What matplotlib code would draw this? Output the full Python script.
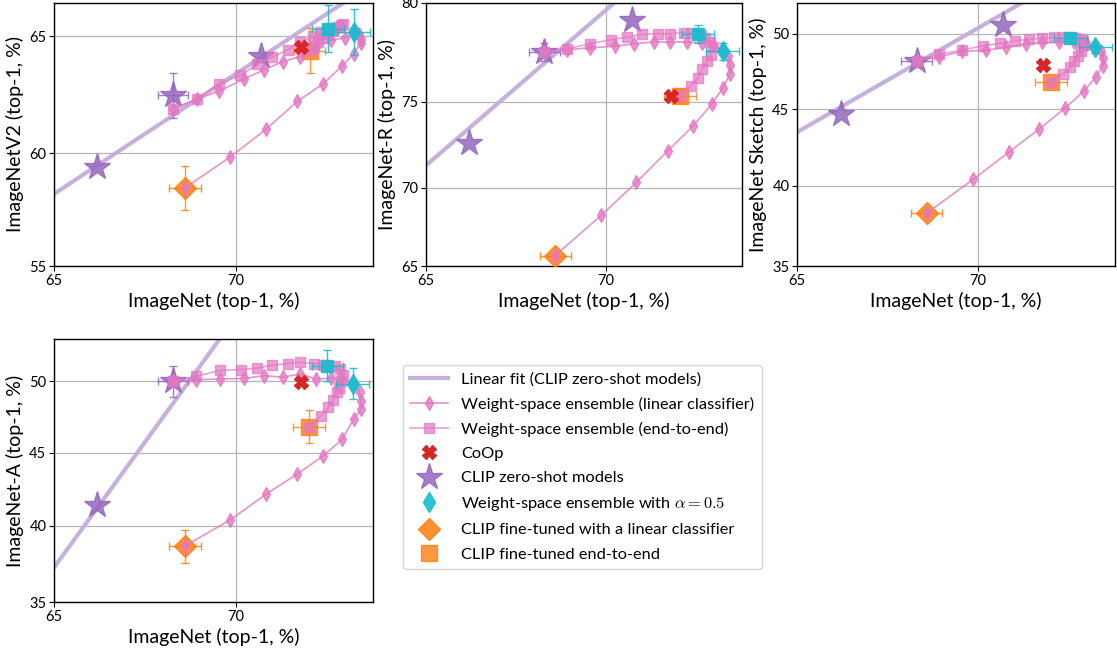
import numpy as np
import matplotlib
matplotlib.use("Agg")
import matplotlib.pyplot as plt
from matplotlib.lines import Line2D
from matplotlib.ticker import FixedLocator, NullLocator, FixedFormatter

plt.rcParams["font.family"] = ["Lato", "DejaVu Sans"]
plt.rcParams["mathtext.fontset"] = "cm"

# ---------------- data ----------------
panels = ["ImageNetV2", "ImageNet-R", "ImageNet Sketch", "ImageNet-A"]
ylabels = ["ImageNetV2 (top-1, %)", "ImageNet-R (top-1, %)",
           "ImageNet Sketch (top-1, %)", "ImageNet-A (top-1, %)"]
xlabel = "ImageNet (top-1, %)"
ylims = [(55, 66.36), (65, 80), (35, 52.05), (35, 52.97)]
yticks = [[55, 60, 65], [65, 70, 75, 80], [35, 40, 45, 50], [35, 40, 45, 50]]
xlim = (65, 73.5)
xticks = [65, 70]

# weight-space ensemble, linear classifier (alpha = 0 ... 1)
wse_lin_x = [
    [68.32, 68.97, 69.56, 70.23, 70.74, 71.23, 71.68, 72.09, 72.45, 72.81, 73.02,
     73.16, 73.20, 73.20, 73.02, 72.73, 72.26, 71.61, 70.81, 69.86, 68.64],
    [68.33, 68.96, 69.57, 70.24, 70.74, 71.26, 71.68, 72.11, 72.49, 72.78, 73.02,
     73.16, 73.20, 73.20, 73.02, 72.74, 72.28, 71.62, 70.81, 69.88, 68.63],
    [68.35, 68.97, 69.57, 70.22, 70.74, 71.26, 71.68, 72.11, 72.49, 72.78, 73.01,
     73.16, 73.20, 73.20, 73.03, 72.74, 72.26, 71.60, 70.81, 69.87, 68.63],
    [68.32, 68.95, 69.58, 70.23, 70.74, 71.24, 71.67, 72.09, 72.47, 72.72, 73.00,
     73.17, 73.21, 73.21, 73.02, 72.74, 72.26, 71.61, 70.81, 69.85, 68.64],
]
wse_lin_y = [
    [61.93, 62.35, 62.69, 63.21, 63.59, 63.94, 64.15, 64.54, 64.83, 64.93, 65.17,
     65.10, 64.89, 64.71, 64.26, 63.75, 63.00, 62.26, 61.07, 59.85, 58.48],
    [77.61, 77.73, 77.83, 77.90, 78.03, 78.12, 78.12, 78.12, 78.07, 77.95, 77.64,
     77.39, 76.97, 76.47, 75.73, 74.85, 73.66, 72.20, 70.34, 68.29, 65.69],
    [48.20, 48.47, 48.82, 48.91, 49.09, 49.31, 49.42, 49.42, 49.42, 49.31, 49.09,
     48.87, 48.38, 47.87, 47.14, 46.22, 45.07, 43.69, 42.18, 40.41, 38.28],
    [50.00, 50.12, 50.16, 50.21, 50.40, 50.30, 50.52, 50.16, 50.23, 50.16, 49.84,
     49.23, 48.60, 48.05, 47.35, 45.95, 44.79, 43.55, 42.17, 40.39, 38.65],
]

# weight-space ensemble, end-to-end (alpha = 0 ... 1)
wse_e2e_x = [
    [68.32, 68.97, 69.56, 70.13, 70.57, 70.96, 71.36, 71.67, 72.01, 72.19, 72.39,
     72.55, 72.70, 72.75, 72.64, 72.51, 72.39, 72.26, 72.13, 72.02, 71.92],
    [68.33, 68.96, 69.57, 70.13, 70.57, 70.96, 71.36, 71.68, 72.03, 72.22, 72.39,
     72.47, 72.57, 72.70, 72.78, 72.72, 72.62, 72.51, 72.40, 72.22, 71.94],
    [68.35, 68.97, 69.57, 70.13, 70.57, 70.96, 71.34, 71.68, 71.98, 72.20, 72.39,
     72.51, 72.62, 72.70, 72.72, 72.66, 72.58, 72.49, 72.39, 72.20, 71.90],
    [68.32, 68.95, 69.58, 70.14, 70.57, 70.96, 71.37, 71.67, 72.03, 72.26, 72.37,
     72.56, 72.68, 72.75, 72.72, 72.67, 72.60, 72.50, 72.39, 72.20, 71.91],
]
wse_e2e_y = [
    [61.93, 62.35, 63.00, 63.36, 63.82, 64.13, 64.43, 64.75, 64.99, 65.17, 65.31,
     65.35, 65.45, 65.52, 65.38, 65.24, 65.10, 64.93, 64.75, 64.56, 64.39],
    [77.61, 77.78, 78.03, 78.23, 78.36, 78.50, 78.53, 78.53, 78.58, 78.56, 78.50,
     78.45, 78.33, 78.12, 77.86, 77.44, 77.14, 76.76, 76.28, 75.86, 75.33],
    [48.20, 48.64, 48.91, 49.20, 49.36, 49.53, 49.62, 49.71, 49.76, 49.76, 49.71,
     49.71, 49.64, 49.49, 49.27, 48.87, 48.53, 48.20, 47.76, 47.31, 46.76],
    [50.00, 50.35, 50.77, 50.82, 50.94, 51.13, 51.25, 51.34, 51.25, 51.17, 51.10,
     51.05, 50.87, 50.47, 50.00, 49.53, 49.23, 48.66, 48.17, 47.59, 46.81],
]

# CLIP zero-shot models (x, y, with error bars for the middle model)
zs_x = [[66.22, 68.32, 70.67], [66.22, 68.34, 70.70],
        [66.24, 68.35, 70.67], [66.23, 68.32, np.nan]]
zs_y = [[59.42, 62.51, 64.18], [72.67, 77.61, 79.20],
        [44.67, 48.20, 50.60], [41.41, 50.00, np.nan]]
zs_xerr = [0.40, 0.42, 0.42, 0.40]
zs_yerr = [0.95, 0.45, 0.30, 1.10]

# linear fit through CLIP zero-shot models: two points on the fitted line
fit_x = [[65.0, 72.80], [65.0, 70.22], [65.0, 71.11], [65.0, 69.58]]
fit_y = [[58.22, 66.40], [71.35, 80.00], [43.48, 52.00], [37.23, 52.97]]

# CoOp
coop_x = [71.71, 71.72, 71.70, 71.71]
coop_y = [64.54, 75.28, 47.91, 49.95]

# weight-space ensemble with alpha = 0.5
half_lin_x = [73.02, 73.02, 73.01, 73.00]
half_lin_y = [65.17, 77.64, 49.09, 49.84]
half_lin_err = [(0.41, 0.95), (0.41, 0.45), (0.41, 0.35), (0.41, 1.10)]
half_e2e_x = [72.39, 72.39, 72.39, 72.37]
half_e2e_y = [65.31, 78.50, 49.71, 51.10]
half_e2e_err = [(0.40, 0.96), (0.41, 0.45), (0.41, 0.30), (0.40, 1.10)]

# fine-tuned models
ft_lin_x = [68.64, 68.63, 68.63, 68.64]
ft_lin_y = [58.48, 65.69, 38.28, 38.65]
ft_lin_err = [(0.43, 0.98), (0.42, 0.15), (0.42, 0.15), (0.43, 1.10)]
ft_e2e_x = [71.92, 71.94, 71.90, 71.91]
ft_e2e_y = [64.39, 75.33, 46.76, 46.81]
ft_e2e_err = [(0.40, 0.95), (0.40, 0.35), (0.40, 0.25), (0.41, 1.15)]

# ---------------- style ----------------
PURPLE = "tab:purple"
PINK = "tab:pink"
CYAN = "tab:cyan"
ORANGE = "tab:orange"
RED = "tab:red"
FIT = "#c5b1dc"


def fwd(v):
    v = np.asarray(v, dtype=float)
    with np.errstate(divide="ignore", invalid="ignore"):
        return np.log(v / (100.0 - v))


def inv(u):
    u = np.asarray(u, dtype=float)
    return 100.0 / (1.0 + np.exp(-u))


W, H = 1117, 649
fig = plt.figure(figsize=(W / 100, H / 100), dpi=100)


def box(l, r, t, b):
    return [l / W, 1 - b / H, (r - l) / W, (b - t) / H]


rects = [box(54, 373, 3, 266), box(426, 742, 3, 266),
         box(797, 1115, 3, 266), box(54, 373, 339, 602)]

for i, rect in enumerate(rects):
    ax = fig.add_axes(rect)
    ax.set_xscale("function", functions=(fwd, inv))
    ax.set_yscale("function", functions=(fwd, inv))
    ax.set_xlim(*xlim)
    ax.set_ylim(*ylims[i])
    ax.xaxis.set_major_locator(FixedLocator(xticks))
    ax.xaxis.set_major_formatter(FixedFormatter([str(t) for t in xticks]))
    ax.yaxis.set_major_locator(FixedLocator(yticks[i]))
    ax.yaxis.set_major_formatter(FixedFormatter([str(t) for t in yticks[i]]))
    ax.xaxis.set_minor_locator(NullLocator())
    ax.yaxis.set_minor_locator(NullLocator())
    ax.tick_params(labelsize=10.5, length=3.5, width=0.8, pad=2)
    ax.grid(True, color="#b5b5b5", lw=0.9, zorder=0)
    ax.set_axisbelow(True)
    for s in ax.spines.values():
        s.set_linewidth(1.0)
    ax.set_xlabel(xlabel, fontsize=14, labelpad=3)
    ax.set_ylabel(ylabels[i], fontsize=14, labelpad=4)

    # linear fit (straight in logit space)
    x0, x1 = fit_x[i]
    y0, y1 = fit_y[i]
    slope = (fwd(y1) - fwd(y0)) / (fwd(x1) - fwd(x0))
    ux = np.linspace(fwd(64.0), fwd(74.5), 60)
    uy = fwd(y0) + slope * (ux - fwd(x0))
    ax.plot(inv(ux), inv(uy), color=FIT, lw=3, zorder=1, solid_capstyle="butt")

    # zero-shot models
    ax.plot(zs_x[i], zs_y[i], ls="none", marker="*", ms=20, color=PURPLE,
            alpha=0.85, zorder=3)
    ax.errorbar(zs_x[i][1], zs_y[i][1], xerr=zs_xerr[i], yerr=zs_yerr[i],
                fmt="none", ecolor=PURPLE, elinewidth=1, capsize=3, alpha=0.85,
                zorder=3)

    # fine-tuned models
    ax.errorbar(ft_lin_x[i], ft_lin_y[i], xerr=ft_lin_err[i][0],
                yerr=ft_lin_err[i][1], fmt="D", ms=11, color=ORANGE,
                ecolor=ORANGE, elinewidth=1, capsize=3, alpha=0.85, zorder=3)
    ax.errorbar(ft_e2e_x[i], ft_e2e_y[i], xerr=ft_e2e_err[i][0],
                yerr=ft_e2e_err[i][1], fmt="s", ms=12, color=ORANGE,
                ecolor=ORANGE, elinewidth=1, capsize=3, alpha=0.8, zorder=3)

    # weight-space ensembles
    ax.plot(wse_lin_x[i], wse_lin_y[i], color=PINK, lw=1.2, marker="d", ms=7.5,
            alpha=0.8, zorder=4)
    ax.plot(wse_e2e_x[i], wse_e2e_y[i], color=PINK, lw=1.2, marker="s", ms=7,
            alpha=0.7, zorder=4)

    # alpha = 0.5
    ax.errorbar(half_lin_x[i], half_lin_y[i], xerr=half_lin_err[i][0],
                yerr=half_lin_err[i][1], fmt="d", ms=10, color=CYAN,
                ecolor=CYAN, elinewidth=1, capsize=3, alpha=0.9, zorder=5)
    ax.errorbar(half_e2e_x[i], half_e2e_y[i], xerr=half_e2e_err[i][0],
                yerr=half_e2e_err[i][1], fmt="s", ms=9, color=CYAN,
                ecolor=CYAN, elinewidth=1, capsize=3, alpha=0.9, zorder=5)

    # CoOp
    ax.plot(coop_x[i], coop_y[i], ls="none", marker="X", ms=10, color=RED,
            zorder=6)

# ---------------- legend ----------------
handles = [
    Line2D([], [], color=FIT, lw=3),
    Line2D([], [], color=PINK, lw=1.2, marker="d", ms=7.5, alpha=0.8),
    Line2D([], [], color=PINK, lw=1.2, marker="s", ms=7, alpha=0.7),
    Line2D([], [], ls="none", marker="X", ms=10, color=RED),
    Line2D([], [], ls="none", marker="*", ms=20, color=PURPLE, alpha=0.85),
    Line2D([], [], ls="none", marker="d", ms=10, color=CYAN, alpha=0.9),
    Line2D([], [], ls="none", marker="D", ms=11, color=ORANGE, alpha=0.85),
    Line2D([], [], ls="none", marker="s", ms=12, color=ORANGE, alpha=0.8),
]
labels = [
    "Linear fit (CLIP zero-shot models)",
    "Weight-space ensemble (linear classifier)",
    "Weight-space ensemble (end-to-end)",
    "CoOp",
    "CLIP zero-shot models",
    r"Weight-space ensemble with $\alpha = 0.5$",
    "CLIP fine-tuned with a linear classifier",
    "CLIP fine-tuned end-to-end",
]
leg = fig.legend(handles, labels, loc="upper left",
                 bbox_to_anchor=(403 / W, 1 - 365 / H), fontsize=11.8,
                 frameon=True, fancybox=True, edgecolor="#cccccc",
                 borderpad=0.45, labelspacing=0.6, handlelength=2.3,
                 handletextpad=0.8, borderaxespad=0)
leg.get_frame().set_linewidth(1.0)

fig.savefig("out.png", dpi=100)
